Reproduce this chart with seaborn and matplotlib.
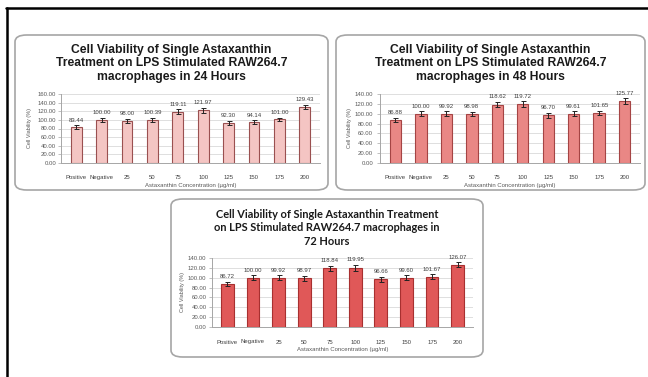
import matplotlib
matplotlib.use("Agg")
import matplotlib.pyplot as plt
from matplotlib.patches import FancyBboxPatch
from matplotlib.lines import Line2D
import seaborn as sns
import pandas as pd
import numpy as np

sns.set_theme(style="white")
plt.rcParams["font.family"] = ["Liberation Sans", "DejaVu Sans"]

categories = ["Positive", "Negative", "25", "50", "75", "100", "125", "150", "175", "200"]
viability_24h = [83.44, 100.00, 98.00, 100.39, 119.11, 121.97, 92.30, 94.14, 101.00, 129.43]
viability_48h = [86.88, 100.00, 99.92, 98.98, 118.62, 119.72, 96.70, 99.61, 101.65, 125.77]
viability_72h = [86.72, 100.00, 99.92, 98.97, 118.84, 119.95, 96.66, 99.60, 101.67, 126.07]
error_24h = [4.0, 4.0, 4.5, 4.5, 5.0, 5.0, 4.5, 4.5, 4.0, 5.0]
error_48h = [4.5, 4.5, 5.0, 4.5, 5.5, 5.5, 4.5, 5.0, 4.5, 5.5]
error_72h = [4.5, 4.5, 5.0, 5.0, 5.5, 5.5, 5.0, 5.0, 5.0, 5.0]

titles = [
    "Cell Viability of Single Astaxanthin\nTreatment on LPS Stimulated RAW264.7\nmacrophages in 24 Hours",
    "Cell Viability of Single Astaxanthin\nTreatment on LPS Stimulated RAW264.7\nmacrophages in 48 Hours",
    "Cell Viability of Single Astaxanthin Treatment\non LPS Stimulated RAW264.7 macrophages in\n72 Hours",
]
x_label = "Astaxanthin Concentration (\u00b5g/ml)"
y_label = "Cell Viability (%)"

W, H = 648, 377
fig = plt.figure(figsize=(W / 100, H / 100), dpi=100)
fig.patch.set_facecolor("white")


def fx(px):
    return px / W


def fy(py):
    return 1 - py / H


# outer frame lines (top and left)
fig.add_artist(Line2D([fx(6), 1.0], [fy(8), fy(8)], color="black", lw=1.8, transform=fig.transFigure))
fig.add_artist(Line2D([fx(6.5), fx(6.5)], [fy(8), 0.0], color="black", lw=1.8, transform=fig.transFigure))


def panel_box(x0, y0, x1, y1):
    box = FancyBboxPatch((fx(x0), fy(y1)), fx(x1 - x0), (y1 - y0) / H,
                         boxstyle="round,pad=0,rounding_size=0.018",
                         transform=fig.transFigure, facecolor="white",
                         edgecolor="#a6a6a6", lw=1.2, zorder=0)
    fig.add_artist(box)


panels = [
    dict(box=(15, 35, 328, 190), ax=(61, 94, 320, 163), ymax=160, values=viability_24h, err=error_24h,
         fill="#f4c5c3", edge="#9a5050", width=0.42, title=titles[0], title_y=[50, 63, 77],
         title_font=["Liberation Sans", "DejaVu Sans"], title_size=8.7, ylab_x=30, ypad=1.5),
    dict(box=(336, 35, 645, 190), ax=(380, 94, 640, 163), ymax=140, values=viability_48h, err=error_48h,
         fill="#e98785", edge="#a54444", width=0.45, title=titles[1], title_y=[50, 63, 77],
         title_font=["Liberation Sans", "DejaVu Sans"], title_size=8.7, ylab_x=350, ypad=3),
    dict(box=(171, 199, 483, 357), ax=(212, 258, 473, 327), ymax=140, values=viability_72h, err=error_72h,
         fill="#e05858", edge="#a83030", width=0.5, title=titles[2], title_y=[215, 228, 242],
         title_font=["Lato", "DejaVu Sans"], title_size=7.9, ylab_x=183, ypad=2),
]

for p in panels:
    panel_box(*p["box"])
    x0, y0, x1, y1 = p["ax"]
    ax = fig.add_axes([fx(x0), fy(y1), fx(x1 - x0), (y1 - y0) / H])
    df = pd.DataFrame({"Concentration": categories, "Viability": p["values"]})
    sns.barplot(data=df, x="Concentration", y="Viability", ax=ax, color=p["fill"],
                edgecolor=p["edge"], linewidth=0.8, width=p["width"], errorbar=None,
                saturation=1, zorder=3)
    xs = np.arange(len(categories))
    ax.errorbar(xs, p["values"], yerr=p["err"], fmt="none", ecolor="#222222",
                elinewidth=0.7, capsize=1.8, capthick=0.7, zorder=4)
    for xi, v, e in zip(xs, p["values"], p["err"]):
        ax.annotate(f"{v:.2f}", (xi, v + e), xytext=(0, 2), textcoords="offset points",
                    ha="center", va="bottom", fontsize=4.3, color="#404040")
    ax.set_ylim(0, p["ymax"])
    ax.set_xlim(-0.6, len(categories) - 0.4)
    ax.set_yticks(np.arange(0, p["ymax"] + 1, 20))
    ax.set_yticklabels([f"{t:.2f}" for t in np.arange(0, p["ymax"] + 1, 20)])
    ax.yaxis.grid(True, color="#d9d9d9", lw=0.6, zorder=0)
    ax.set_axisbelow(True)
    for s in ["top", "right"]:
        ax.spines[s].set_visible(False)
    for s in ["left", "bottom"]:
        ax.spines[s].set_color("#a6a6a6")
        ax.spines[s].set_linewidth(0.7)
    ax.tick_params(axis="y", which="both", left=True, length=2, width=0.5, color="#a6a6a6",
                   labelsize=4.3, labelcolor="#595959", pad=p["ypad"])
    ax.tick_params(axis="x", bottom=False, labelsize=4.3, labelcolor="#404040", pad=3)
    ax.set_xlabel(x_label, fontsize=4.3, color="#595959", labelpad=2)
    ax.set_ylabel("")
    ax.set_facecolor("white")
    fig.text(fx(p["ylab_x"]), fy((y0 + y1) / 2), y_label, rotation=90, fontsize=4.0,
             color="#595959", ha="center", va="center")
    cx = (p["box"][0] + p["box"][2]) / 2
    for line, ty in zip(p["title"].split("\n"), p["title_y"]):
        fig.text(fx(cx), fy(ty), line, ha="center", va="center", fontsize=p["title_size"],
                 fontweight="bold", color="#1a1a1a", family=p["title_font"])

fig.savefig("out.png", dpi=100, facecolor="white")
